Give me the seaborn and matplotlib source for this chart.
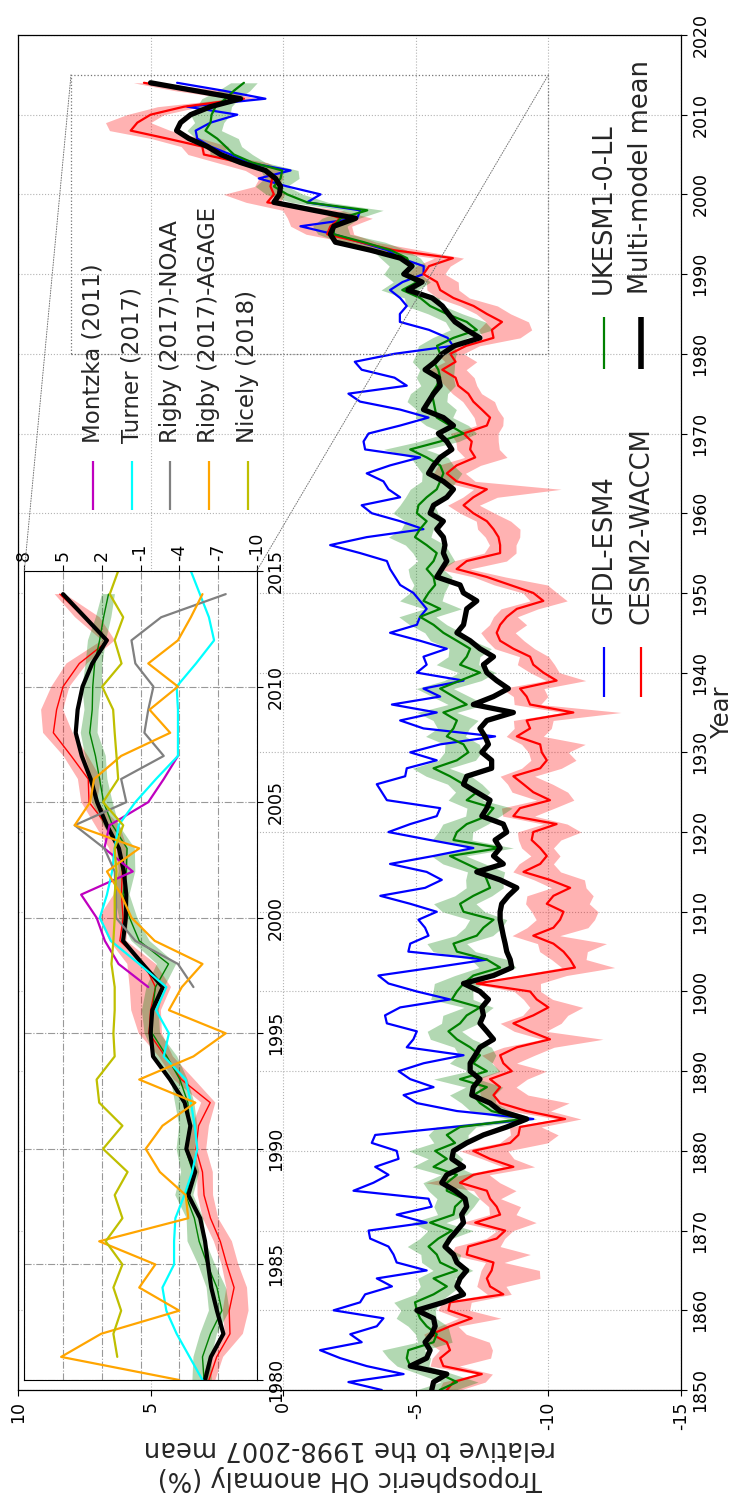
import numpy as np
import matplotlib
matplotlib.use("Agg")
import matplotlib.pyplot as plt
import seaborn as sns
from matplotlib.patches import Rectangle, ConnectionPatch

# ---------------- data ----------------
years = np.arange(1850, 2015)

gfdl = [-3.72, -2.46, -4.54, -3.15, -2.15, -1.39, -2.96, -2.53, -3.53, -3.78,
        -1.90, -2.90, -3.09, -4.10, -3.53, -5.41, -4.28, -4.16, -3.97, -3.28,
        -3.22, -5.41, -4.28, -5.60, -5.48, -2.65, -3.40, -3.97, -3.47, -4.35,
        -4.28, -3.34, -3.47, -6.40, -9.43, -6.55, -5.04, -4.54, -5.67, -4.79,
        -4.35, -5.30, -6.80, -4.66, -4.91, -5.04, -3.91, -3.84, -4.41, -6.29,
        -5.04, -3.97, -3.59, -5.67, -7.68, -4.72, -4.79, -5.48, -5.35, -5.10,
        -5.79, -4.79, -3.66, -5.35, -5.98, -5.41, -4.03, -5.67, -7.17, -5.54,
        -3.97, -4.79, -5.79, -5.92, -3.91, -3.72, -3.53, -4.60, -4.66, -5.79,
        -4.79, -5.92, -7.99, -5.29, -4.41, -5.79, -4.10, -5.92, -5.29, -6.80,
        -5.04, -5.41, -5.29, -6.17, -5.16, -4.03, -5.04, -5.16, -5.41, -5.16,
        -4.91, -4.41, -4.22, -4.03, -3.91, -2.90, -1.77, -3.15, -5.29, -4.41,
        -3.34, -2.96, -4.41, -3.97, -3.78, -3.15, -4.03, -5.16, -3.09, -3.03,
        -3.22, -4.41, -5.48, -4.41, -2.90, -2.46, -4.66, -4.20, -2.96, -2.70,
        -4.20, -6.40, -6.20, -5.50, -4.40, -4.40, -4.66, -4.41, -4.03, -4.50,
        -5.29, -5.30, -4.42, -3.92, -2.91, -1.91, -0.65, -2.79, -2.91, -0.90,
        -1.41, -0.15, 0.92, -0.28, 1.36, 1.98, 2.74, 3.24, 3.30, 2.74,
        1.73, 3.62, 0.67, 2.24, 4.00]

cesm = [-6.17, -6.42, -7.49, -6.04, -5.92, -6.29, -6.17, -5.60, -6.29, -7.11,
        -6.23, -6.29, -8.30, -7.80, -7.68, -7.86, -7.93, -6.92, -6.98, -8.05,
        -8.37, -7.24, -8.18, -8.05, -7.80, -7.68, -6.67, -7.17, -8.68, -7.80,
        -7.17, -8.56, -8.87, -8.93, -10.63, -9.18, -8.18, -7.93, -8.18, -7.80,
        -8.62, -8.30, -8.18, -8.81, -10.06, -9.31, -8.68, -9.43, -10.00, -9.56,
        -9.31, -7.30, -9.18, -11.00, -10.82, -10.57, -10.19, -9.43, -10.19, -10.44,
        -10.57, -9.94, -10.19, -10.82, -10.06, -9.06, -9.69, -9.94, -9.69, -9.37,
        -9.43, -10.31, -8.68, -8.93, -10.06, -9.43, -9.06, -8.68, -9.69, -9.94,
        -9.75, -9.69, -8.81, -9.31, -9.18, -10.94, -9.31, -9.18, -8.93, -10.31,
        -9.81, -9.43, -9.31, -8.68, -8.18, -8.05, -8.18, -8.43, -8.81, -9.81,
        -9.43, -8.56, -7.68, -6.54, -6.92, -8.18, -8.18, -8.12, -7.93, -7.68,
        -7.17, -6.80, -7.17, -7.68, -6.54, -6.17, -6.54, -7.24, -7.05, -7.11,
        -6.80, -7.68, -7.80, -7.49, -7.17, -6.98, -6.60, -6.50, -6.00, -6.50,
        -6.30, -6.90, -7.93, -7.87, -8.25, -7.68, -7.18, -6.42, -5.92, -5.80,
        -5.29, -5.50, -6.40, -4.17, -2.91, -1.66, -1.78, -2.16, -1.28, 0.60,
        0.35, 0.48, 0.41, 0.73, 1.61, 2.99, 3.05, 4.37, 5.75, 5.50,
        5.00, 3.74, 1.48, 3.37, 5.25]

ukesm = [-5.90, -6.55, -5.92, -4.79, -4.66, -4.72, -5.67, -5.79, -5.41, -5.16,
         -5.04, -4.97, -5.67, -6.17, -5.67, -6.55, -5.92, -5.79, -5.48, -5.85,
         -6.36, -5.54, -6.42, -6.48, -6.80, -6.17, -6.17, -6.55, -5.67, -6.17,
         -5.73, -6.48, -6.17, -6.67, -9.06, -7.86, -7.42, -7.17, -7.68, -6.67,
         -7.68, -7.17, -7.42, -7.05, -6.55, -6.23, -6.67, -6.92, -7.42, -6.36,
         -6.55, -6.80, -7.17, -8.18, -7.68, -6.55, -6.42, -7.30, -7.55, -7.93,
         -6.80, -6.67, -7.17, -7.80, -7.68, -7.55, -6.92, -6.29, -8.18, -6.42,
         -6.55, -6.92, -7.68, -7.93, -6.92, -7.30, -6.80, -6.29, -5.67, -6.55,
         -6.98, -6.80, -6.17, -6.42, -6.55, -6.04, -6.92, -6.42, -5.92, -6.67,
         -7.42, -6.67, -6.92, -7.05, -6.55, -6.04, -5.67, -5.16, -5.92, -5.29,
         -5.48, -5.73, -5.67, -5.41, -5.67, -5.79, -5.41, -4.97, -5.16, -5.41,
         -5.04, -5.10, -5.41, -5.79, -5.92, -6.04, -5.92, -5.41, -4.79, -5.92,
         -6.80, -6.29, -5.79, -5.73, -5.67, -5.60, -5.79, -5.92, -5.85, -5.67,
         -5.92, -5.80, -6.42, -7.30, -6.92, -6.17, -5.54, -5.17, -4.49, -5.05,
         -4.49, -4.80, -4.67, -4.05, -3.04, -1.91, -1.91, -2.16, -3.17, -0.90,
         -0.15, 0.35, 0.10, 0.04, 1.17, 1.86, 2.17, 2.49, 2.93, 2.74,
         2.70, 2.55, 2.17, 1.86, 1.48]

mmm = [-5.60, -5.67, -6.17, -4.79, -5.41, -5.54, -5.35, -5.60, -5.73, -5.67,
       -5.04, -6.04, -6.80, -6.55, -6.67, -6.92, -6.55, -6.42, -6.10, -6.29,
       -6.55, -6.80, -6.73, -6.92, -6.86, -6.48, -5.98, -6.17, -6.80, -6.36,
       -6.42, -6.92, -7.55, -8.43, -9.18, -8.18, -7.80, -7.11, -7.17, -7.42,
       -7.05, -7.05, -7.24, -7.42, -7.93, -7.68, -7.42, -7.55, -7.49, -7.74,
       -7.42, -6.80, -7.93, -8.62, -8.56, -8.43, -8.37, -8.30, -8.24, -8.18,
       -8.18, -8.24, -8.49, -8.81, -8.18, -7.30, -8.30, -7.93, -8.18, -7.99,
       -8.43, -8.30, -7.49, -7.68, -7.80, -7.30, -6.80, -6.92, -7.86, -7.86,
       -7.49, -7.74, -7.61, -7.42, -7.68, -8.68, -7.17, -7.93, -8.49, -8.05,
       -7.68, -7.55, -7.93, -7.42, -7.05, -6.55, -6.80, -6.86, -6.92, -7.30,
       -6.80, -6.67, -5.79, -5.98, -6.17, -6.04, -6.10, -6.04, -5.79, -6.04,
       -5.54, -5.67, -6.17, -6.42, -6.04, -5.48, -5.67, -5.92, -6.36, -6.17,
       -5.85, -6.42, -6.04, -5.29, -5.48, -5.67, -5.92, -5.85, -5.35, -5.73,
       -6.00, -6.45, -7.42, -6.92, -6.48, -6.23, -6.00, -5.62, -4.70, -5.24,
       -4.55, -4.86, -4.42, -3.29, -1.97, -1.78, -1.91, -2.73, -1.16, 0.35,
       0.14, 0.10, 0.29, 0.67, 1.61, 2.36, 2.86, 3.55, 4.02, 3.87,
       3.49, 2.74, 1.61, 3.30, 5.00]

# ensemble spread (distance of the shaded range below / above each line)
cesm_dl = [0.5, 1.2, 0.4, 0.6, 1.9, 1.6, 1.6, 1.3, 0.3, 1.1,
           0.8, 0.8, 0.3, 0.6, 2.0, 1.8, 0.4, 2.4, 1.2, 0.3,
           0.3, 2.3, 0.6, 0.9, 0.4, 1.1, 1.5, 0.6, 0.8, 0.9,
           1.3, 1.4, 1.5, 0.8, 0.6, 0.9, 2.6, 1.3, 0.6, 1.4,
           1.3, 0.5, 1.3, 1.4, 2.0, 0.6, 1.8, 1.3, 1.3, 0.6,
           0.4, 2.4, 1.5, 1.5, 0.6, 0.9, 2.0, 1.0, 1.3, 1.3,
           1.3, 1.6, 1.5, 0.6, 1.3, 1.4, 0.5, 0.5, 0.5, 1.1,
           1.8, 0.4, 0.8, 1.3, 0.9, 1.3, 1.1, 0.8, 0.8, 1.1,
           1.0, 1.7, 1.0, 0.8, 1.0, 1.8, 0.4, 0.8, 0.9, 1.1,
           0.6, 0.8, 0.7, 0.8, 0.9, 0.7, 1.0, 0.4, 0.8, 0.9,
           0.9, 1.4, 0.7, 0.5, 1.5, 0.6, 0.6, 0.8, 1.0, 0.9,
           0.8, 0.6, 0.9, 2.8, 0.7, 0.7, 0.9, 1.2, 1.1, 1.0,
           1.3, 0.6, 0.5, 0.6, 0.8, 0.5, 0.7, 0.7, 0.9, 0.8,
           0.5, 0.5, 1.0, 1.5, 1.0, 0.9, 0.9, 0.6, 0.7, 0.8,
           0.8, 0.8, 0.4, 1.0, 0.6, 1.0, 0.8, 1.2, 0.9, 0.5,
           0.4, 0.3, 0.4, 0.7, 1.0, 0.6, 1.0, 1.3, 1.5, 0.5,
           0.5, 0.6, 0.5, 1.2, 0.4]
cesm_du = [0.3, 0.4, 0.2, 0.5, 0.3, 0.4, 0.7, 0.3, 0.4, 0.5,
           0.4, 0.3, 0.6, 0.5, 0.3, 0.4, 0.3, 0.6, 0.5, 0.4,
           0.3, 0.5, 0.4, 0.3, 0.4, 0.5, 1.3, 0.4, 0.4, 0.3,
           0.5, 0.4, 0.3, 0.4, 0.3, 0.6, 0.4, 0.5, 0.8, 0.6,
           0.5, 0.4, 0.7, 0.5, 0.3, 0.6, 0.5, 0.4, 0.7, 0.5,
           0.6, 0.2, 0.4, 0.5, 0.7, 0.9, 0.6, 0.8, 1.0, 0.9,
           1.2, 0.8, 1.0, 0.7, 0.6, 0.4, 0.8, 0.6, 0.7, 0.5,
           0.6, 0.5, 0.4, 0.7, 0.5, 0.8, 0.6, 0.5, 0.7, 0.6,
           0.5, 0.7, 0.4, 0.6, 0.5, 0.4, 0.6, 0.5, 0.7, 0.4,
           0.5, 0.6, 0.4, 0.7, 0.5, 0.6, 0.4, 0.5, 0.6, 0.5,
           0.4, 0.6, 0.5, 0.7, 0.5, 0.6, 0.4, 0.5, 0.6, 0.4,
           0.5, 0.6, 0.4, 0.5, 0.6, 0.5, 0.7, 0.4, 0.5, 0.6,
           0.5, 0.4, 0.6, 0.5, 0.4, 0.6, 0.5, 0.7, 0.5, 0.4,
           0.5, 0.6, 0.4, 0.5, 0.6, 0.4, 0.5, 0.6, 0.5, 0.4,
           0.6, 0.5, 0.7, 0.6, 0.5, 0.8, 1.5, 2.0, 1.3, 0.8,
           1.9, 0.6, 0.5, 0.7, 0.9, 0.6, 0.8, 0.6, 0.8, 1.2,
           0.9, 1.0, 0.5, 0.7, 0.4]
ukesm_dl = [0.6, 0.8, 0.5, 0.7, 0.9, 0.6, 0.7, 0.5, 0.8, 0.6,
            0.7, 0.9, 0.6, 0.5, 0.8, 0.6, 0.7, 0.9, 0.6, 0.5,
            0.8, 0.6, 0.5, 0.7, 0.6, 0.8, 0.5, 0.7, 0.9, 0.6,
            0.7, 0.5, 0.8, 0.6, 0.5, 0.7, 0.6, 0.8, 0.6, 0.7,
            0.5, 0.7, 0.6, 0.8, 0.6, 0.5, 0.7, 0.6, 0.5, 0.8,
            0.6, 0.7, 0.5, 0.6, 0.8, 0.7, 0.5, 0.6, 0.7, 0.5,
            0.8, 0.6, 0.7, 0.5, 0.6, 0.8, 0.7, 0.6, 0.5, 0.7,
            0.6, 0.8, 0.5, 0.7, 0.6, 0.5, 0.7, 0.8, 0.6, 0.7,
            0.5, 0.6, 0.7, 0.6, 0.8, 0.5, 0.7, 0.6, 0.5, 0.8,
            0.6, 0.7, 0.5, 0.8, 0.6, 0.7, 0.5, 0.6, 0.8, 0.7,
            0.6, 0.5, 0.7, 0.6, 0.8, 0.5, 0.7, 0.6, 0.5, 0.7,
            0.8, 0.6, 0.7, 0.5, 0.6, 0.7, 0.5, 0.8, 0.6, 0.7,
            0.5, 0.7, 0.6, 0.8, 0.5, 0.6, 0.7, 0.5, 0.6, 0.8,
            0.6, 0.7, 0.5, 0.6, 0.7, 0.6, 0.5, 0.7, 0.6, 0.5,
            0.7, 0.6, 0.5, 0.6, 0.8, 0.6, 0.5, 0.7, 0.6, 0.8,
            0.6, 0.5, 0.7, 0.6, 0.5, 0.7, 0.6, 0.8, 0.6, 0.5,
            0.7, 0.6, 0.5, 0.6, 0.5]
ukesm_du = [0.9, 0.6, 0.8, 0.5, 0.7, 1.0, 0.6, 0.8, 0.7, 0.9,
            0.6, 0.8, 0.7, 1.0, 0.6, 0.9, 0.7, 0.6, 0.8, 0.7,
            0.9, 0.7, 0.6, 0.8, 1.0, 0.7, 0.9, 0.6, 0.8, 0.7,
            1.0, 0.8, 0.7, 0.9, 0.6, 0.8, 0.7, 0.9, 0.8, 1.0,
            0.7, 0.9, 0.8, 0.6, 1.0, 0.8, 0.7, 0.9, 0.6, 0.8,
            0.9, 1.1, 0.7, 0.8, 0.6, 0.9, 1.0, 0.8, 0.7, 0.9,
            0.8, 1.0, 0.7, 0.9, 0.8, 0.6, 0.9, 0.7, 1.0, 0.8,
            0.7, 0.9, 0.8, 1.0, 0.7, 0.8, 0.6, 0.9, 0.8, 0.7,
            0.9, 0.7, 0.8, 0.6, 0.9, 1.0, 0.7, 0.8, 0.9, 0.6,
            0.8, 0.9, 0.7, 0.8, 1.0, 0.7, 0.9, 0.8, 0.6, 0.9,
            0.7, 0.8, 0.9, 0.7, 0.6, 0.9, 0.8, 1.0, 0.7, 0.8,
            0.9, 0.7, 0.8, 1.0, 0.7, 0.8, 0.9, 0.6, 1.0, 0.8,
            0.7, 0.9, 0.8, 0.7, 1.0, 0.8, 0.6, 0.9, 0.7, 0.8,
            0.9, 0.7, 0.8, 1.0, 0.8, 0.7, 0.9, 0.6, 0.8, 0.9,
            0.7, 0.8, 1.0, 0.7, 0.9, 0.6, 0.8, 0.7, 0.9, 0.6,
            0.8, 0.7, 0.6, 0.8, 0.7, 0.9, 0.6, 0.8, 0.7, 0.6,
            0.8, 0.7, 0.9, 0.6, 0.5]

# observation-based estimates shown in the inset
montzka_years = np.arange(1997, 2008)
montzka = [-1.6, 0.7, 1.76, 2.4, 3.6, -0.4, 1.8, 1.4, -1.6, -2.8, -3.9]

turner_years = np.arange(1980, 2016)
turner = [-5.8, -4.8, -3.8, -3.0, -2.7, -3.6, -3.6, -3.7, -4.4, -5.0,
          -5.4, -5.2, -4.9, -4.5, -2.8, -3.2, -2.2, -3.0, -0.9, 1.3,
          2.15, 1.6, 1.2, 1.0, 0.7, -0.6, -2.2, -3.9, -3.9, -3.9,
          -3.8, -5.3, -6.7, -6.3, -5.6, -4.9]

rigby_noaa_years = np.arange(1997, 2015)
rigby_noaa = [-5.1, -3.9, -0.6, 0.9, 0.9, 1.0, 1.8, 4.1, 0.1, 0.5,
              -2.8, -1.3, -1.6, -2.0, -0.6, -0.3, -2.6, -7.6]

rigby_agage_years = np.arange(1980, 2015)
rigby_agage = [-4.0, 5.15, 2.05, -4.0, -0.9, -2.15, 2.2, -4.7, -4.5, -2.5,
               -1.4, -2.7, -5.25, -0.9, -5.1, -7.6, -3.2, -4.2, -5.8, -2.1,
               -0.3, 0.5, 1.6, -0.9, 4.1, 2.9, 2.6, 0.5, -3.3, -1.7,
               -3.9, -1.6, -3.9, -4.9, -5.8]

nicely_years = np.arange(1981, 2016)
nicely = [0.8, 1.1, 0.5, 1.1, 0.4, 1.7, 0.4, 1.0, 0.0, 1.9,
          0.4, 2.2, 2.4, 1.0, 1.1, 1.0, 1.0, 1.25, 1.1, 1.0,
          1.0, 0.86, 1.0, 0.34, 1.9, 0.73, 0.86, 1.0, 1.12, 1.97,
          0.47, 1.0, 0.34, 1.38, 0.73]

model_labels = ["GFDL-ESM4", "CESM2-WACCM", "UKESM1-0-LL", "Multi-model mean"]
obs_labels = ["Montzka (2011)", "Turner (2017)", "Rigby (2017)-NOAA",
              "Rigby (2017)-AGAGE", "Nicely (2018)"]
x_ticks = [10, 5, 0, -5, -10, -15]
inset_x_ticks = [8, 5, 2, -1, -4, -7, -10]

# ---------------- style ----------------
sns.set_style("ticks")
plt.rcParams["font.family"] = ["DejaVu Sans"]
plt.rcParams["axes.unicode_minus"] = False
plt.rcParams["axes.edgecolor"] = "black"
plt.rcParams["xtick.color"] = "black"
plt.rcParams["ytick.color"] = "black"

fig = plt.figure(figsize=(7.37, 14.94), dpi=100)
ax = fig.add_axes([0.0244, 0.0696, 0.8996, 0.9070])

yrs = np.asarray(years)
cesm_a, ukesm_a = np.asarray(cesm), np.asarray(ukesm)


def draw_models(a, lw_thin, lw_mmm, with_gfdl=True):
    a.fill_betweenx(yrs, cesm_a - np.asarray(cesm_dl), cesm_a + np.asarray(cesm_du),
                    color="red", alpha=0.3, lw=0)
    a.fill_betweenx(yrs, ukesm_a - np.asarray(ukesm_dl), ukesm_a + np.asarray(ukesm_du),
                    color="green", alpha=0.3, lw=0)
    if with_gfdl:
        sns.lineplot(x=gfdl, y=yrs, orient="y", sort=False, estimator=None,
                     color="blue", lw=lw_thin, ax=a, legend=False)
    sns.lineplot(x=cesm, y=yrs, orient="y", sort=False, estimator=None,
                 color="red", lw=lw_thin, ax=a, legend=False)
    sns.lineplot(x=ukesm, y=yrs, orient="y", sort=False, estimator=None,
                 color="green", lw=lw_thin, ax=a, legend=False)
    sns.lineplot(x=mmm, y=yrs, orient="y", sort=False, estimator=None,
                 color="black", lw=lw_mmm, ax=a, legend=False)


draw_models(ax, 1.6, 3.8)

ax.set_xlim(10, -15)
ax.set_ylim(1850, 2020)
ax.set_xticks(x_ticks)
ax.set_xticklabels([str(v) for v in x_ticks])
ax.set_yticks(np.arange(1850, 2021, 10))
ax.yaxis.tick_right()
ax.yaxis.set_label_position("right")
ax.tick_params(axis="x", labelrotation=90, labelsize=12.5, direction="out", length=4.5)
ax.tick_params(axis="y", labelrotation=90, labelsize=12.5, direction="out", length=4.5,
               pad=3)
for lbl in ax.get_yticklabels():
    lbl.set_va("center")
ax.grid(True, ls=":", lw=0.8, color="0.7")
ax.set_axisbelow(True)
for s in ax.spines.values():
    s.set_linewidth(0.9)
ax.set_xlabel("Tropospheric OH anomaly (%)\nrelative to the 1998-2007 mean",
              rotation=180, fontsize=18.5, labelpad=4)
ax.set_ylabel("Year", rotation=90, fontsize=17.5, labelpad=0.5)

# zoom rectangle
ax.add_patch(Rectangle((8, 1980), -18, 35, fill=False, ls=":", lw=0.9, ec="0.45", zorder=5))

# manual legends (rotated layout)
def vlegend(a, xs, y0, y1, ytext, labels, colors, widths, fs):
    for x, lab, c, w in zip(xs, labels, colors, widths):
        a.plot([x, x], [y0, y1], color=c, lw=w, transform=a.transAxes,
               clip_on=False, solid_capstyle="butt", zorder=6)
        a.text(x, ytext, lab, rotation=90, ha="center", va="bottom",
               fontsize=fs, transform=a.transAxes, zorder=6)

vlegend(ax, [0.884, 0.940], 0.5114, 0.5483, 0.5653, model_labels[:2],
        ["blue", "red"], [1.6, 1.6], 18.5)
vlegend(ax, [0.884, 0.940], 0.7535, 0.7919, 0.8089, model_labels[2:],
        ["green", "black"], [1.6, 4.0], 18.5)
vlegend(ax, [0.1131, 0.1719, 0.2293, 0.2881, 0.3462], 0.6494, 0.6856, 0.6989,
        obs_labels, ["m", "cyan", "grey", "orange", "y"], [1.6] * 5, 16.5)

# ---------------- inset ----------------
axins = fig.add_axes([0.0330, 0.0763, 0.3153, 0.5415])
axins.set_facecolor("white")
draw_models(axins, 1.0, 3.0, with_gfdl=False)
for xs_, ys_, c in [(montzka, montzka_years, "m"), (turner, turner_years, "cyan"),
                    (rigby_noaa, rigby_noaa_years, "grey"),
                    (rigby_agage, rigby_agage_years, "orange"),
                    (nicely, nicely_years, "y")]:
    sns.lineplot(x=xs_, y=ys_, orient="y", sort=False, estimator=None,
                 color=c, lw=1.6, ax=axins, legend=False)
axins.set_xlim(8, -10)
axins.set_ylim(1980, 2015)
axins.set_xticks(inset_x_ticks)
axins.set_xticklabels([str(v) for v in inset_x_ticks])
axins.set_yticks(np.arange(1980, 2016, 5))
axins.xaxis.tick_top()
axins.yaxis.tick_right()
axins.tick_params(axis="both", labelrotation=90, labelsize=12.5, direction="out", length=4)
for lbl in axins.get_yticklabels():
    lbl.set_va("center")
axins.grid(True, ls="-.", lw=0.8, color="0.6")
axins.set_xlabel("")
axins.set_ylabel("")
for s in axins.spines.values():
    s.set_linewidth(0.8)

for xx in (8, -10):
    con = ConnectionPatch(xyA=(xx, 2015), coordsA=ax.transData,
                          xyB=(xx, 2015), coordsB=axins.transData,
                          ls=":", lw=0.7, color="0.45")
    fig.add_artist(con)

fig.savefig("out.png", dpi=100)
